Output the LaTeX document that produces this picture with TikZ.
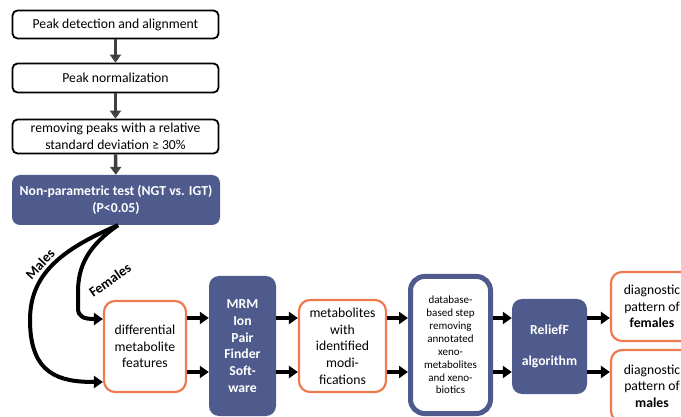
\documentclass[tikz,border=0pt]{standalone}
\usepackage{fontspec}
\setmainfont{Carlito}
\usetikzlibrary{arrows.meta, positioning}
\definecolor{boxBlue}{HTML}{4F5B8C}
\definecolor{boxOrange}{HTML}{F07A50}
\definecolor{arrowGray}{HTML}{404040}

\begin{document}
\begin{tikzpicture}[x=1pt, y=-1pt,
  stepBox/.style={draw, line width=1.8pt, rounded corners=5pt, align=center, inner sep=0pt, font=\fontsize{13.7}{16.7}\selectfont},
  testBox/.style={fill=boxBlue, rounded corners=8pt, align=center, inner sep=0pt, text=white, font=\fontsize{13.7}{16.7}\selectfont\bfseries},
  resultBox/.style={draw=boxOrange, line width=2.2pt, rounded corners=11pt, align=center, inner sep=0pt, font=\fontsize{13.7}{16.7}\selectfont},
  filterBox/.style={draw=boxBlue, line width=5pt, rounded corners=14pt, align=center, inner sep=0pt, font=\fontsize{11}{12.9}\selectfont},
  grayArrow/.style={arrowGray, line width=3.5pt, -{Triangle[length=8pt,width=11pt]}},
  blackArrow/.style={black, line width=4pt, -{Triangle[length=9pt,width=12pt]}},
  groupTag/.style={font=\fontsize{14}{16}\selectfont\bfseries}
]
\useasboundingbox (0,0) rectangle (681,417);
\clip (0,0) rectangle (681,417);

% Preprocessing steps
\node[stepBox, minimum width=206pt, minimum height=28pt] (peakDetect) at (115.5,24.5) {Peak detection and alignment};
\node[stepBox, minimum width=206pt, minimum height=29pt] (peakNorm) at (115.5,78) {Peak normalization};
\node[stepBox, minimum width=206pt, minimum height=34pt] (rsdFilter) at (115.5,136.5) {removing peaks with a relative\\standard deviation ≥ 30\%};
\node[testBox, minimum width=208pt, minimum height=50pt] (nonParTest) at (116,200) {Non-parametric test (NGT vs. IGT)\\(P<0.05)};

\draw[grayArrow] (peakDetect) -- (peakNorm);
\draw[grayArrow] (peakNorm) -- (rsdFilter);
\draw[grayArrow] (rsdFilter) -- (nonParTest);

% Main row
\node[resultBox, minimum width=82pt, minimum height=91pt] (diffFeat) at (145,346.5) {differential\\metabolite\\features};
\node[testBox, rounded corners=10pt, minimum width=67pt, minimum height=140pt] (mrmFinder) at (242.5,346) {MRM\\Ion\\Pair\\Finder\\Soft-\\ware};
\node[resultBox, minimum width=87pt, minimum height=92pt] (modMetab) at (342.5,346) {metabolites\\with\\identified\\modi-\\fications};
\node[filterBox, minimum width=80pt, minimum height=137pt] (dbStep) at (450.5,345) {database-\\based step\\removing\\annotated\\xeno-\\metabolites\\and xeno-\\biotics};
\node[testBox, rounded corners=10pt, minimum width=75pt, minimum height=95pt] (reliefF) at (549.5,346.5) {ReliefF\\[14pt]algorithm};
\node[resultBox, minimum width=82pt, minimum height=69pt] (diagFemale) at (652,306.5) {diagnostic\\pattern of\\\textbf{females}};
\node[resultBox, minimum width=82pt, minimum height=72pt] (diagMale) at (652,386) {diagnostic\\pattern of\\\textbf{males}};

\coordinate (upperRow) at (0,318);
\coordinate (lowerRow) at (0,372);
\coordinate (femaleRow) at (0,319);
\coordinate (maleRow) at (0,382);

% Split by sex
\draw[blackArrow] ([xshift=2pt]nonParTest.south) .. controls (88,246) and (78,266) .. (78,292) -- (78,308) .. controls (78,317) and (84,319) .. (diffFeat.west |- femaleRow);
\draw[blackArrow] ([xshift=2pt]nonParTest.south) .. controls (60,250) and (30,275) .. (30,320) .. controls (30,375) and (60,382) .. (diffFeat.west |- maleRow);
\node[groupTag, rotate=47] (maleTag) at (40,264) {Males};
\node[groupTag, rotate=35] (femaleTag) at (110,280) {Females};

% Row arrows
\draw[blackArrow] (diffFeat.east |- upperRow) -- (mrmFinder.west |- upperRow);
\draw[blackArrow] (diffFeat.east |- lowerRow) -- (mrmFinder.west |- lowerRow);
\draw[blackArrow] (mrmFinder.east |- upperRow) -- (modMetab.west |- upperRow);
\draw[blackArrow] (mrmFinder.east |- lowerRow) -- (modMetab.west |- lowerRow);
\draw[blackArrow] (modMetab.east |- upperRow) -- (dbStep.west |- upperRow);
\draw[blackArrow] (modMetab.east |- lowerRow) -- (dbStep.west |- lowerRow);
\draw[blackArrow] (dbStep.east |- upperRow) -- (reliefF.west |- upperRow);
\draw[blackArrow] (dbStep.east |- lowerRow) -- (reliefF.west |- lowerRow);
\draw[blackArrow] (reliefF.east |- upperRow) -- (diagFemale.west |- upperRow);
\draw[blackArrow] (reliefF.east |- lowerRow) -- (diagMale.west |- lowerRow);
\end{tikzpicture}
\end{document}
